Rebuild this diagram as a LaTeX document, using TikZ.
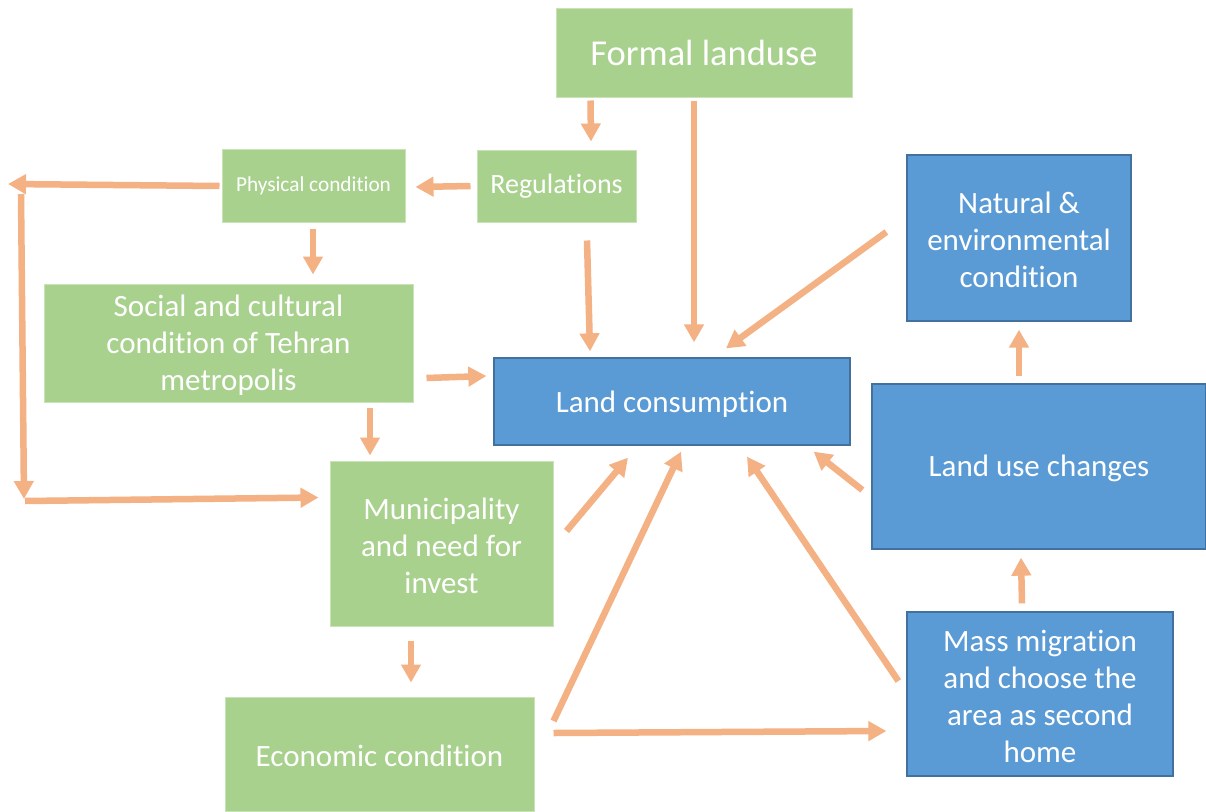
\documentclass[tikz,border=0pt]{standalone}
\usepackage{fontspec}
\setmainfont[Ligatures=NoCommon]{Carlito}
\usetikzlibrary{arrows.meta,calc}
\definecolor{gfill}{HTML}{A9D18E}
\definecolor{gline}{HTML}{C9E2B8}
\definecolor{bfill}{HTML}{5B9BD5}
\definecolor{bline}{HTML}{41719C}
\definecolor{arrc}{HTML}{F4B183}
\newcommand{\lowtext}{\rule{0pt}{26pt}}
\tikzset{
  gbox/.style={rectangle, fill=gfill, draw=gline, line width=1pt, text=white, align=center, inner sep=0pt, font=\fontsize{31}{37}\selectfont},
  bbox/.style={rectangle, fill=bfill, draw=bline, line width=1.3pt, text=white, align=center, inner sep=0pt, font=\fontsize{31}{37}\selectfont},
  arr/.style={draw=arrc, line width=6.5pt, -{Triangle[width=19pt,length=18pt]}}
}
\begin{document}
\begin{tikzpicture}[x=1pt,y=-1pt]
\useasboundingbox (0,0) rectangle (1206,811);
\fill[white] (0,0) rectangle (1206,811);
% nodes
\node[gbox, minimum width=296pt, minimum height=89pt, font=\fontsize{36.5}{42}\selectfont] (formal) at (704,52.5) {Formal landuse};
\node[gbox, minimum width=159pt, minimum height=72pt, font=\fontsize{28}{33}\selectfont] (reg) at (556.5,186) {Regulations};
\node[gbox, minimum width=183pt, minimum height=73pt, font=\fontsize{21.3}{26}\selectfont] (phys) at (313.5,185.5) {Physical condition};
\node[gbox, minimum width=369pt, minimum height=118pt] (social) at (228.5,343) {\lowtext Social and cultural\\condition of Tehran\\metropolis};
\node[bbox, minimum width=356pt, minimum height=87pt] (landc) at (672,401.5) {\lowtext Land consumption};
\node[bbox, minimum width=224pt, minimum height=166pt] (natural) at (1019,238) {\lowtext Natural \&\\environmental\\condition};
\node[bbox, minimum width=334pt, minimum height=165pt] (luc) at (1039,466.5) {\lowtext Land use changes};
\node[gbox, minimum width=223pt, minimum height=165pt] (muni) at (441.5,543.5) {\lowtext Municipality\\and need for\\invest};
\node[gbox, minimum width=309pt, minimum height=114pt] (econ) at (379.5,754) {\lowtext Economic condition};
\node[bbox, minimum width=266pt, minimum height=164pt] (mass) at (1040,694) {\lowtext Mass migration\\and choose the\\area as second\\home};
% free ends
\coordinate (lefttip) at (8,184);
\coordinate (lvtop) at (21,194);
\coordinate (lvbot) at (24,499);
\coordinate (lbstart) at (25,501);
% connectors
\draw[arr] ($(formal.south west)+(35,3)$) -- ($(reg.north)+(34.5,-8)$);
\draw[arr] ($(formal.south)+(-10,3)$) -- ($(landc.north)+(22,-15)$);
\draw[arr] ($(reg.south)+(30.5,18)$) -- ($(landc.north)+(-82,-6)$);
\draw[arr] ($(natural.west)+(-20,-6)$) -- ($(landc.north)+(54,-9)$);
\draw[arr] ($(reg.west)+(-6,0)$) -- ($(phys.east)+(10,1.5)$);
\draw[arr] ($(phys.west)+(-2,0.5)$) -- (lefttip);
\draw[arr] (lvtop) -- (lvbot);
\draw[arr] (lbstart) -- ($(muni.west)+(-11,-46)$);
\draw[arr] ($(phys.south)+(-0.5,6)$) -- ($(social.north)+(84.5,-9)$);
\draw[arr] ($(social.east)+(13,35)$) -- ($(landc.west)+(-7,-25.5)$);
\draw[arr] ($(social.south)+(141.5,5)$) -- ($(muni.north)+(-71.5,-5)$);
\draw[arr] ($(muni.east)+(13,-12.5)$) -- ($(landc.south)+(-44,12)$);
\draw[arr] ($(econ.east)+(19,-33)$) -- ($(landc.south)+(9,6)$);
\draw[arr] ($(mass.west)+(-8,-13)$) -- ($(landc.south)+(75,11)$);
\draw[arr] ($(luc.west)+(-9,23.5)$) -- ($(landc.south east)+(-37,6)$);
\draw[arr] ($(econ.east)+(19,-21)$) -- ($(mass.west)+(-20,37)$);
\draw[arr] ($(muni.south)+(-30.5,14)$) -- ($(econ.north)+(31.5,-14)$);
\draw[arr] ($(mass.north)+(-18,-8)$) -- ($(luc.south)+(-18,8)$);
\draw[arr] ($(luc.north)+(-20,-7)$) -- ($(natural.south)+(0,8)$);
\end{tikzpicture}
\end{document}
